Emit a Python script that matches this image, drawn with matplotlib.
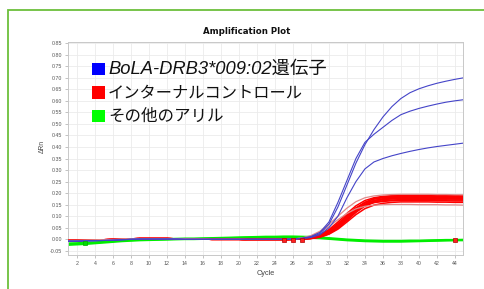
import matplotlib
matplotlib.use("Agg")
import matplotlib.pyplot as plt
from matplotlib.patches import Rectangle

# cycles 1..45
cycles = list(range(1, 46))

# baselines, cycles 1-25
red_base = [-0.005, -0.005, -0.004, -0.003, -0.002, -0.001, 0.001, 0.002, 0.003, 0.003,
            0.003, 0.003, 0.002, 0.002, 0.001, 0.001, 0.0, 0.0, 0.0, 0.0,
            -0.001, -0.001, -0.001, -0.001, -0.001]
blue_base = [-0.008, -0.008, -0.007, -0.006, -0.005, -0.004, -0.002, 0.0, 0.001, 0.001,
             0.001, 0.001, 0.001, 0.0, 0.0, 0.0, 0.0, 0.0, 0.0, 0.0,
             0.0, 0.0, 0.0, 0.0, 0.0]

# amplification part, cycles 26-45
blue_rise = [
    [0.001, 0.004, 0.01, 0.025, 0.065, 0.14, 0.235, 0.33, 0.41, 0.475,
     0.53, 0.575, 0.61, 0.635, 0.652, 0.665, 0.676, 0.685, 0.693, 0.70],
    [0.001, 0.005, 0.012, 0.03, 0.075, 0.16, 0.255, 0.35, 0.42, 0.455,
     0.485, 0.515, 0.54, 0.555, 0.567, 0.577, 0.586, 0.594, 0.60, 0.605],
    [0.001, 0.003, 0.008, 0.02, 0.05, 0.10, 0.18, 0.25, 0.305, 0.335,
     0.35, 0.362, 0.372, 0.381, 0.389, 0.396, 0.402, 0.407, 0.412, 0.417],
]

pink_rise = [
    [0.001, 0.006, 0.016, 0.035, 0.065, 0.10, 0.135, 0.163, 0.18, 0.188,
     0.192, 0.194, 0.195, 0.195, 0.195, 0.195, 0.194, 0.194, 0.193, 0.193],
    [0.001, 0.005, 0.014, 0.03, 0.055, 0.085, 0.112, 0.132, 0.143, 0.148,
     0.15, 0.151, 0.151, 0.151, 0.15, 0.15, 0.15, 0.149, 0.149, 0.148],
]

red_rise = [
    [0.0, 0.002, 0.008, 0.02, 0.042, 0.075, 0.112, 0.145, 0.168, 0.18,
     0.186, 0.189, 0.19, 0.19, 0.19, 0.19, 0.19, 0.189, 0.189, 0.188],
    [0.0, 0.002, 0.006, 0.016, 0.035, 0.064, 0.10, 0.135, 0.16, 0.174,
     0.18, 0.183, 0.185, 0.185, 0.185, 0.185, 0.184, 0.184, 0.183, 0.183],
    [0.0, 0.001, 0.005, 0.013, 0.03, 0.056, 0.09, 0.125, 0.152, 0.167,
     0.175, 0.178, 0.18, 0.18, 0.18, 0.18, 0.18, 0.179, 0.179, 0.178],
    [0.0, 0.002, 0.007, 0.018, 0.038, 0.068, 0.104, 0.136, 0.157, 0.168,
     0.173, 0.175, 0.176, 0.176, 0.176, 0.176, 0.175, 0.175, 0.174, 0.174],
    [0.0, 0.001, 0.004, 0.011, 0.026, 0.05, 0.083, 0.117, 0.144, 0.16,
     0.167, 0.17, 0.172, 0.172, 0.172, 0.172, 0.171, 0.171, 0.17, 0.17],
    [0.0, 0.001, 0.005, 0.014, 0.031, 0.058, 0.092, 0.124, 0.147, 0.159,
     0.164, 0.167, 0.168, 0.168, 0.168, 0.168, 0.167, 0.167, 0.166, 0.166],
    [0.0, 0.001, 0.003, 0.009, 0.022, 0.044, 0.075, 0.107, 0.133, 0.148,
     0.156, 0.16, 0.162, 0.162, 0.162, 0.162, 0.161, 0.161, 0.16, 0.16],
    [0.0, 0.001, 0.004, 0.01, 0.024, 0.048, 0.082, 0.118, 0.148, 0.166,
     0.175, 0.18, 0.182, 0.183, 0.183, 0.183, 0.183, 0.182, 0.182, 0.181],
    [0.0, 0.002, 0.006, 0.015, 0.033, 0.06, 0.095, 0.132, 0.16, 0.176,
     0.183, 0.186, 0.187, 0.187, 0.187, 0.187, 0.187, 0.186, 0.186, 0.185],
    [0.0, 0.001, 0.004, 0.012, 0.028, 0.053, 0.087, 0.121, 0.149, 0.164,
     0.172, 0.176, 0.178, 0.178, 0.178, 0.178, 0.178, 0.177, 0.177, 0.176],
]

green_curves = [
    [-0.018, -0.017, -0.015, -0.013, -0.011, -0.008, -0.005, -0.003, -0.002, -0.001,
     0.0, 0.001, 0.002, 0.003, 0.003, 0.004, 0.005, 0.006, 0.007, 0.008,
     0.009, 0.01, 0.011, 0.011, 0.012, 0.012, 0.011, 0.01, 0.008, 0.005,
     0.002, -0.001, -0.003, -0.005, -0.006, -0.007, -0.007, -0.007, -0.006, -0.006,
     -0.005, -0.004, -0.003, -0.003, -0.002],
    [-0.024, -0.022, -0.02, -0.017, -0.014, -0.011, -0.008, -0.006, -0.004, -0.003,
     -0.002, -0.001, 0.0, 0.001, 0.001, 0.002, 0.003, 0.004, 0.005, 0.006,
     0.007, 0.008, 0.008, 0.009, 0.009, 0.009, 0.008, 0.007, 0.005, 0.002,
     -0.001, -0.004, -0.006, -0.008, -0.009, -0.01, -0.01, -0.01, -0.009, -0.008,
     -0.007, -0.006, -0.005, -0.004, -0.004],
]

marker_cycles = [25, 26, 27, 44]
marker_vals = [-0.003, -0.003, -0.003, -0.003]
green_marker_cycle = [2.9]
green_marker_val = [-0.018]

yticks = [-0.05, 0.0, 0.05, 0.10, 0.15, 0.20, 0.25, 0.30, 0.35, 0.40,
          0.45, 0.50, 0.55, 0.60, 0.65, 0.70, 0.75, 0.80, 0.85]
xticks = list(range(2, 46, 2))

legend_labels = ["BoLA-DRB3*009:02遺伝子", "インターナルコントロール", "その他のアリル"]
legend_colors = ["#0000ff", "#ff0000", "#00ff00"]

W, H = 485, 289
fig = plt.figure(figsize=(W / 100, H / 100), dpi=100)
fig.patch.set_facecolor("white")


def px(x, y):
    return x / W, 1 - y / H


ax = fig.add_axes([68 / W, 1 - 255 / H, (463 - 68) / W, (255 - 41.5) / H])

for g in green_curves:
    ax.plot(cycles, g, color="#00ee00", lw=1.6, zorder=2, solid_capstyle="butt")
for r in red_rise:
    ax.plot(cycles, red_base + r, color="#ff0000", lw=1.1, zorder=3)
for r in pink_rise:
    ax.plot(cycles, red_base + r, color="#e08a8a", lw=0.9, zorder=3)
for b in blue_rise:
    ax.plot(cycles, blue_base + b, color="#4444c8", lw=0.8, zorder=4)

ax.plot(marker_cycles, marker_vals, ls="none", marker="s", ms=3,
        mfc="#ff2020", mec="#b00000", mew=0.5, zorder=5)
ax.plot(green_marker_cycle, green_marker_val, ls="none", marker="s", ms=3.5,
        mfc="#00dd00", mec="#00aa00", mew=0.5, zorder=5)

ax.set_xlim(1, 44.9)
ax.set_ylim(-0.068, 0.857)
ax.set_xticks(xticks)
ax.set_yticks(yticks)
ax.set_yticklabels([f"{v:.2f}" for v in yticks])
ax.grid(True, color="#ebebeb", lw=0.6)
ax.set_axisbelow(True)
for s in ax.spines.values():
    s.set_color("#c8c8c8")
    s.set_linewidth(0.7)
ax.tick_params(length=2, width=0.5, color="#aaaaaa", labelsize=3.8,
               labelcolor="#555555", pad=2)
for lab in ax.get_xticklabels() + ax.get_yticklabels():
    lab.set_fontfamily("Liberation Sans")

ax.set_xlabel("Cycle", fontsize=5.3, color="#444444", family="Liberation Sans")
ax.set_ylabel("ΔRn", fontsize=4.8, color="#444444", family="Liberation Sans")
ax.xaxis.set_label_coords((266 - 68) / 395, (255 - 270) / 213.5)
ax.yaxis.set_label_coords((45.5 - 68) / 395, (255 - 146.5) / 213.5)

x, y = px(246.5, 31.5)
fig.text(x, y, "Amplification Plot", ha="center", va="center",
         fontsize=6.2, fontweight="bold", family="DejaVu Sans", color="#111111")

# legend block
line_y = [69, 92.5, 116]
line_size = [13.2, 11.7, 11.9]
for lab, col, ly, fs in zip(legend_labels, legend_colors, line_y, line_size):
    x0, y0 = px(91.7, ly + 6.3)
    fig.add_artist(Rectangle((x0, y0), 13.3 / W, 12.6 / H, transform=fig.transFigure,
                             facecolor=col, edgecolor="none"))
    tx, ty = px(108, ly)
    if lab.startswith("BoLA"):
        fig.text(tx, ty, lab, ha="left", va="center", fontsize=fs, style="italic",
                 family=["Liberation Sans", "Noto Sans CJK JP"], color="#111111")
    else:
        fig.text(tx, ty, lab, ha="left", va="center", fontsize=fs,
                 family=["Noto Sans CJK JP", "DejaVu Sans"], color="#111111")

# green frame around the chart
fx, fy = px(8, 300)
fig.add_artist(Rectangle((fx, fy), 600 / W, 290 / H, transform=fig.transFigure,
                         facecolor="none", edgecolor="#6cbf3c", lw=1.3, clip_on=False))

fig.savefig("out.png", dpi=100)
